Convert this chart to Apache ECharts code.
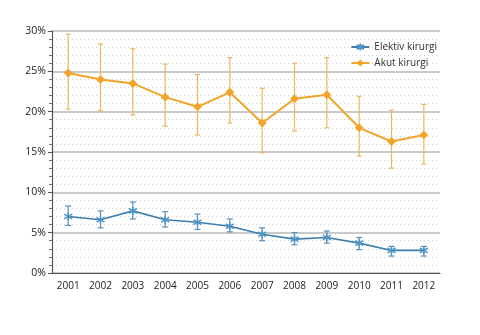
<!DOCTYPE html>
<html><head><meta charset="utf-8">
<script src="https://cdn.jsdelivr.net/npm/echarts@6/dist/echarts.min.js"></script>
<style>html,body{margin:0;padding:0;background:#fff}#c{width:480px;height:335px}</style>
</head><body><div id="c"></div>
<script>
const years = ['2001','2002','2003','2004','2005','2006','2007','2008','2009','2010','2011','2012'];
const elektiv = [7.0, 6.6, 7.7, 6.6, 6.3, 5.8, 4.8, 4.2, 4.4, 3.7, 2.8, 2.8];
const elektivLow = [5.9, 5.6, 6.7, 5.7, 5.4, 5.1, 4.0, 3.5, 3.7, 2.9, 2.1, 2.1];
const elektivHigh = [8.3, 7.7, 8.8, 7.6, 7.3, 6.7, 5.6, 5.0, 5.2, 4.4, 3.3, 3.3];
const akut = [24.8, 24.0, 23.5, 21.8, 20.6, 22.4, 18.6, 21.6, 22.1, 18.0, 16.3, 17.1];
const akutLow = [20.3, 20.1, 19.6, 18.2, 17.1, 18.6, 14.9, 17.6, 18.0, 14.5, 13.0, 13.5];
const akutHigh = [29.6, 28.4, 27.8, 25.9, 24.6, 26.7, 22.9, 26.0, 26.7, 21.9, 20.2, 20.9];
const yTicks = [0, 5, 10, 15, 20, 25, 30];

const blue = '#4f95c4', blueLine = '#3f7fae', orange = '#f2a52a', orangeErr = '#e9b860';
const asterisk = 'path://M5,0 L5,10 M0,2 L10,8 M0,8 L10,2';

function errSeries(name, low, high, color, cap) {
  return {
    type: 'custom', name: name + '_err', silent: true, z: 1,
    data: years.map((y, i) => [i, low[i], high[i]]),
    renderItem: function (params, api) {
      const x = api.coord([api.value(0), 0])[0];
      const lo = api.coord([api.value(0), api.value(1)])[1];
      const hi = api.coord([api.value(0), api.value(2)])[1];
      const st = { stroke: color, lineWidth: 1.2 };
      return { type: 'group', children: [
        { type: 'line', shape: { x1: x, y1: lo, x2: x, y2: hi }, style: st },
        { type: 'line', shape: { x1: x - cap, y1: lo, x2: x + cap, y2: lo }, style: st },
        { type: 'line', shape: { x1: x - cap, y1: hi, x2: x + cap, y2: hi }, style: st }
      ]};
    }
  };
}

const chart = echarts.init(document.getElementById('c'));
chart.setOption({
  animation: false,
  grid: { left: 52, right: 40, top: 31, bottom: 62 },
  legend: {
    orient: 'vertical', right: 38, top: 37, itemGap: 6, itemWidth: 18, itemHeight: 9,
    textStyle: { fontFamily: 'Open Sans', fontSize: 10, color: '#333' },
    data: ['Elektiv kirurgi', 'Akut kirurgi']
  },
  xAxis: {
    type: 'category', data: years, boundaryGap: true,
    axisLine: { lineStyle: { color: '#555', width: 1.2 } },
    axisTick: { alignWithLabel: true, length: 5, lineStyle: { color: '#555' } },
    axisLabel: { fontFamily: 'Open Sans', fontSize: 10, color: '#222', margin: 8 },
    splitLine: { show: false }
  },
  yAxis: {
    type: 'value', min: 0, max: 30, interval: 5,
    axisLine: { show: true, lineStyle: { color: '#555', width: 1.2 } },
    axisTick: { show: true, length: 4, lineStyle: { color: '#555' } },
    minorTick: { show: true, splitNumber: 5, length: 3, lineStyle: { color: '#777' } },
    axisLabel: { fontFamily: 'Open Sans', fontSize: 10.5, color: '#222', margin: 6,
      formatter: v => yTicks.includes(v) ? v + '%' : '' },
    splitLine: { show: true, lineStyle: { color: '#b8b8b8', width: 1.5 } },
    minorSplitLine: { show: true, lineStyle: { color: '#d0d0d0', type: [1, 3], width: 1 } }
  },
  series: [
    errSeries('Elektiv kirurgi', elektivLow, elektivHigh, '#5b8fb8', 3),
    errSeries('Akut kirurgi', akutLow, akutHigh, orangeErr, 2.5),
    {
      name: 'Elektiv kirurgi', type: 'line', data: elektiv, z: 3,
      symbol: asterisk, symbolSize: 8,
      lineStyle: { color: blueLine, width: 1.6 },
      itemStyle: { color: '#7fb6dc', borderColor: blue, borderWidth: 1.5 }
    },
    {
      name: 'Akut kirurgi', type: 'line', data: akut, z: 3,
      symbol: 'diamond', symbolSize: 9,
      lineStyle: { color: orange, width: 2 },
      itemStyle: { color: orange }
    }
  ]
});
</script></body></html>
